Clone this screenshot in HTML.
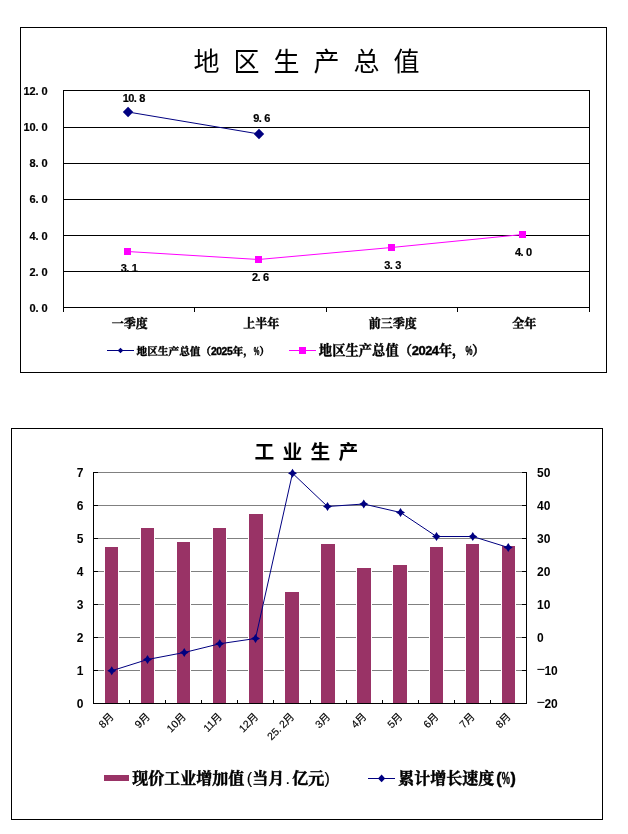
<!DOCTYPE html>
<html lang="zh"><head><meta charset="utf-8"><title>地区生产总值 工业生产</title>
<style>html,body{margin:0;padding:0;background:#fff}svg{display:block}text{font-family:"Liberation Sans", "Noto Sans CJK SC", sans-serif}.sf{font-family:"Liberation Sans", "Noto Serif CJK SC", serif;font-weight:bold}.b{font-weight:bold}</style></head><body>
<svg width="628" height="834" viewBox="0 0 628 834">
<rect width="628" height="834" fill="#fff"/>
<g id="chart1" shape-rendering="crispEdges">
<rect x="20.5" y="27.5" width="586" height="345" fill="none" stroke="#000" stroke-width="1"/>
<rect x="63" y="90" width="527" height="1" fill="#000"/>
<rect x="63" y="127" width="527" height="1" fill="#000"/>
<rect x="63" y="163" width="527" height="1" fill="#000"/>
<rect x="63" y="199" width="527" height="1" fill="#000"/>
<rect x="63" y="235" width="527" height="1" fill="#000"/>
<rect x="63" y="271" width="527" height="1" fill="#000"/>
<rect x="63" y="307" width="527" height="1" fill="#000"/>
<rect x="63" y="90" width="1" height="222" fill="#000"/>
<rect x="589" y="90" width="1" height="218" fill="#000"/>
<rect x="194" y="307" width="1" height="5" fill="#000"/>
<rect x="326" y="307" width="1" height="5" fill="#000"/>
<rect x="457" y="307" width="1" height="5" fill="#000"/>
<rect x="589" y="307" width="1" height="5" fill="#000"/>
</g>
<text x="193.5 233.5 273.5 313.5 353.5 393.5" y="71" font-size="26" fill="#000">地区生产总值</text>
<text class="b" x="23.50 29.50 35.50 41.50" y="95" font-size="11" fill="#000" stroke="#000" stroke-width="0.2">12.0</text>
<text class="b" x="23.50 29.50 35.50 41.50" y="130.8" font-size="11" fill="#000" stroke="#000" stroke-width="0.2">10.0</text>
<text class="b" x="29.50 35.50 41.50" y="166.8" font-size="11" fill="#000" stroke="#000" stroke-width="0.2">8.0</text>
<text class="b" x="29.50 35.50 41.50" y="203" font-size="11" fill="#000" stroke="#000" stroke-width="0.2">6.0</text>
<text class="b" x="29.50 35.50 41.50" y="240" font-size="11" fill="#000" stroke="#000" stroke-width="0.2">4.0</text>
<text class="b" x="29.50 35.50 41.50" y="276.2" font-size="11" fill="#000" stroke="#000" stroke-width="0.2">2.0</text>
<text class="b" x="29.50 35.50 41.50" y="312" font-size="11" fill="#000" stroke="#000" stroke-width="0.2">0.0</text>
<polyline fill="none" stroke="#000080" stroke-width="1" points="128.05,112.00 259.00,134.00"/>
<polyline fill="none" stroke="#ff00ff" stroke-width="1" points="127.50,251.50 258.50,259.50 391.50,247.50 522.50,234.50"/>
<path d="M122.85 112.00L128.05 106.80L133.25 112.00L128.05 117.20Z" fill="#000080"/>
<path d="M253.80 134.00L259.00 128.80L264.20 134.00L259.00 139.20Z" fill="#000080"/>
<rect x="124" y="248" width="7" height="7" fill="#ff00ff" shape-rendering="crispEdges"/>
<rect x="255" y="256" width="7" height="7" fill="#ff00ff" shape-rendering="crispEdges"/>
<rect x="388" y="244" width="7" height="7" fill="#ff00ff" shape-rendering="crispEdges"/>
<rect x="519" y="231" width="7" height="7" fill="#ff00ff" shape-rendering="crispEdges"/>
<text class="b" x="122.70 128.20 133.70 139.20" y="102" font-size="11" fill="#000" stroke="#000" stroke-width="0.2">10.8</text>
<text class="b" x="253.20 258.70 264.20" y="122" font-size="11" fill="#000" stroke="#000" stroke-width="0.2">9.6</text>
<text class="b" x="120.70 126.20 131.70" y="272" font-size="11" fill="#000" stroke="#000" stroke-width="0.2">3.1</text>
<text class="b" x="252.00 257.50 263.00" y="281" font-size="11" fill="#000" stroke="#000" stroke-width="0.2">2.6</text>
<text class="b" x="384.30 389.80 395.30" y="269" font-size="11" fill="#000" stroke="#000" stroke-width="0.2">3.3</text>
<text class="b" x="515.10 520.60 526.10" y="256" font-size="11" fill="#000" stroke="#000" stroke-width="0.2">4.0</text>
<rect x="63" y="271" width="527" height="1" fill="#000" shape-rendering="crispEdges"/>
<text class="sf" x="129.8" y="328" font-size="12" text-anchor="middle" stroke="#000" stroke-width="0.45">一季度</text>
<text class="sf" x="261.2" y="328" font-size="12" text-anchor="middle" stroke="#000" stroke-width="0.45">上半年</text>
<text class="sf" x="392.8" y="328" font-size="12" text-anchor="middle" stroke="#000" stroke-width="0.45">前三季度</text>
<text class="sf" x="524.2" y="328" font-size="12" text-anchor="middle" stroke="#000" stroke-width="0.45">全年</text>
<rect x="107" y="350" width="27" height="1" fill="#000080" shape-rendering="crispEdges"/>
<path d="M117.7 350.5L120.5 347.7L123.3 350.5L120.5 353.3Z" fill="#000080"/>
<text class="sf" y="354.7" font-size="10.67" stroke="#000" stroke-width="0.4"><tspan x="136.50 147.17 157.84 168.51 179.18 189.85 200.52">地区生产总值（</tspan><tspan x="210.89 216.22 221.56 226.89" font-size="10.35">2025</tspan><tspan x="232.53 243.20">年，</tspan><tspan x="253.87" textLength="5.60" lengthAdjust="spacingAndGlyphs">%</tspan><tspan x="259.20">）</tspan></text>
<rect x="289" y="350" width="27" height="1" fill="#ff00ff" shape-rendering="crispEdges"/>
<rect x="299" y="347" width="7" height="7" fill="#ff00ff" shape-rendering="crispEdges"/>
<text class="sf" y="354.7" font-size="13.33" stroke="#000" stroke-width="0.4"><tspan x="318.80 332.13 345.46 358.79 372.12 385.45 398.78">地区生产总值（</tspan><tspan x="411.81 418.48 425.14 431.81" font-size="12.93">2024</tspan><tspan x="438.77 452.10">年，</tspan><tspan x="465.43" textLength="7.00" lengthAdjust="spacingAndGlyphs">%</tspan><tspan x="472.10">）</tspan></text>
<g id="chart2" shape-rendering="crispEdges">
<rect x="11.5" y="428.5" width="591" height="391" fill="none" stroke="#000" stroke-width="1"/>
<rect x="94" y="472" width="432" height="1" fill="#808080"/>
<rect x="94" y="505" width="432" height="1" fill="#808080"/>
<rect x="94" y="538" width="432" height="1" fill="#808080"/>
<rect x="94" y="571" width="432" height="1" fill="#808080"/>
<rect x="94" y="604" width="432" height="1" fill="#808080"/>
<rect x="94" y="637" width="432" height="1" fill="#808080"/>
<rect x="94" y="670" width="432" height="1" fill="#808080"/>
<rect x="104" y="546" width="15" height="157" fill="#fff"/>
<rect x="105" y="547" width="13" height="156" fill="#993366"/>
<rect x="140" y="527" width="15" height="176" fill="#fff"/>
<rect x="141" y="528" width="13" height="175" fill="#993366"/>
<rect x="176" y="541" width="15" height="162" fill="#fff"/>
<rect x="177" y="542" width="13" height="161" fill="#993366"/>
<rect x="212" y="527" width="15" height="176" fill="#fff"/>
<rect x="213" y="528" width="13" height="175" fill="#993366"/>
<rect x="248" y="513" width="16" height="190" fill="#fff"/>
<rect x="249" y="514" width="14" height="189" fill="#993366"/>
<rect x="284" y="591" width="16" height="112" fill="#fff"/>
<rect x="285" y="592" width="14" height="111" fill="#993366"/>
<rect x="320" y="543" width="16" height="160" fill="#fff"/>
<rect x="321" y="544" width="14" height="159" fill="#993366"/>
<rect x="356" y="567" width="16" height="136" fill="#fff"/>
<rect x="357" y="568" width="14" height="135" fill="#993366"/>
<rect x="392" y="564" width="16" height="139" fill="#fff"/>
<rect x="393" y="565" width="14" height="138" fill="#993366"/>
<rect x="429" y="546" width="15" height="157" fill="#fff"/>
<rect x="430" y="547" width="13" height="156" fill="#993366"/>
<rect x="465" y="543" width="15" height="160" fill="#fff"/>
<rect x="466" y="544" width="13" height="159" fill="#993366"/>
<rect x="501" y="545" width="15" height="158" fill="#fff"/>
<rect x="502" y="546" width="13" height="157" fill="#993366"/>
<rect x="93" y="472" width="1" height="232" fill="#000"/>
<rect x="526" y="472" width="1" height="232" fill="#000"/>
<rect x="93" y="703" width="434" height="1" fill="#000"/>
<rect x="93" y="472" width="5" height="1" fill="#000"/>
<rect x="522" y="472" width="5" height="1" fill="#000"/>
<rect x="93" y="505" width="5" height="1" fill="#000"/>
<rect x="522" y="505" width="5" height="1" fill="#000"/>
<rect x="93" y="538" width="5" height="1" fill="#000"/>
<rect x="522" y="538" width="5" height="1" fill="#000"/>
<rect x="93" y="571" width="5" height="1" fill="#000"/>
<rect x="522" y="571" width="5" height="1" fill="#000"/>
<rect x="93" y="604" width="5" height="1" fill="#000"/>
<rect x="522" y="604" width="5" height="1" fill="#000"/>
<rect x="93" y="637" width="5" height="1" fill="#000"/>
<rect x="522" y="637" width="5" height="1" fill="#000"/>
<rect x="93" y="670" width="5" height="1" fill="#000"/>
<rect x="522" y="670" width="5" height="1" fill="#000"/>
<rect x="93" y="703" width="5" height="1" fill="#000"/>
<rect x="522" y="703" width="5" height="1" fill="#000"/>
<rect x="129" y="700" width="1" height="4" fill="#000"/>
<rect x="165" y="700" width="1" height="4" fill="#000"/>
<rect x="201" y="700" width="1" height="4" fill="#000"/>
<rect x="237" y="700" width="1" height="4" fill="#000"/>
<rect x="273" y="700" width="1" height="4" fill="#000"/>
<rect x="310" y="700" width="1" height="4" fill="#000"/>
<rect x="346" y="700" width="1" height="4" fill="#000"/>
<rect x="382" y="700" width="1" height="4" fill="#000"/>
<rect x="418" y="700" width="1" height="4" fill="#000"/>
<rect x="454" y="700" width="1" height="4" fill="#000"/>
<rect x="490" y="700" width="1" height="4" fill="#000"/>
</g>
<text class="b" x="254.5 282.5 310.5 338.5" y="459.2" font-size="19.8" fill="#000">工业生产</text>
<text class="b" x="83.4" y="476.8" font-size="12" text-anchor="end">7</text>
<text class="b" x="83.4" y="509.8" font-size="12" text-anchor="end">6</text>
<text class="b" x="83.4" y="542.8" font-size="12" text-anchor="end">5</text>
<text class="b" x="83.4" y="575.8" font-size="12" text-anchor="end">4</text>
<text class="b" x="83.4" y="608.8" font-size="12" text-anchor="end">3</text>
<text class="b" x="83.4" y="641.8" font-size="12" text-anchor="end">2</text>
<text class="b" x="83.4" y="674.8" font-size="12" text-anchor="end">1</text>
<text class="b" x="83.4" y="707.8" font-size="12" text-anchor="end">0</text>
<text class="b" x="537" y="476.8" font-size="12">50</text>
<text class="b" x="537" y="509.8" font-size="12">40</text>
<text class="b" x="537" y="542.8" font-size="12">30</text>
<text class="b" x="537" y="575.8" font-size="12">20</text>
<text class="b" x="537" y="608.8" font-size="12">10</text>
<text class="b" x="537" y="641.8" font-size="12">0</text>
<text class="b" x="536.6" y="674.8" font-size="12"><tspan font-weight="normal" font-size="14.5" dy="-0.7">−</tspan><tspan x="544.4" dy="0.7">10</tspan></text>
<text class="b" x="536.6" y="707.8" font-size="12"><tspan font-weight="normal" font-size="14.5" dy="-0.7">−</tspan><tspan x="544.4" dy="0.7">20</tspan></text>
<polyline fill="none" stroke="#000080" stroke-width="1" points="111.75,670.75 147.50,659.50 184.25,652.50 219.75,643.75 255.50,638.50 292.50,473.25 327.50,506.50 363.75,504.00 400.50,512.50 436.50,536.50 472.75,536.50 508.25,547.50"/>
<path d="M107.25 670.75L110.00 669.00L111.75 666.25L113.50 669.00L116.25 670.75L113.50 672.50L111.75 675.25L110.00 672.50Z" fill="#000080"/>
<path d="M143.00 659.50L145.75 657.75L147.50 655.00L149.25 657.75L152.00 659.50L149.25 661.25L147.50 664.00L145.75 661.25Z" fill="#000080"/>
<path d="M179.75 652.50L182.50 650.75L184.25 648.00L186.00 650.75L188.75 652.50L186.00 654.25L184.25 657.00L182.50 654.25Z" fill="#000080"/>
<path d="M215.25 643.75L218.00 642.00L219.75 639.25L221.50 642.00L224.25 643.75L221.50 645.50L219.75 648.25L218.00 645.50Z" fill="#000080"/>
<path d="M251.00 638.50L253.75 636.75L255.50 634.00L257.25 636.75L260.00 638.50L257.25 640.25L255.50 643.00L253.75 640.25Z" fill="#000080"/>
<path d="M288.00 473.25L290.75 471.50L292.50 468.75L294.25 471.50L297.00 473.25L294.25 475.00L292.50 477.75L290.75 475.00Z" fill="#000080"/>
<path d="M323.00 506.50L325.75 504.75L327.50 502.00L329.25 504.75L332.00 506.50L329.25 508.25L327.50 511.00L325.75 508.25Z" fill="#000080"/>
<path d="M359.25 504.00L362.00 502.25L363.75 499.50L365.50 502.25L368.25 504.00L365.50 505.75L363.75 508.50L362.00 505.75Z" fill="#000080"/>
<path d="M396.00 512.50L398.75 510.75L400.50 508.00L402.25 510.75L405.00 512.50L402.25 514.25L400.50 517.00L398.75 514.25Z" fill="#000080"/>
<path d="M432.00 536.50L434.75 534.75L436.50 532.00L438.25 534.75L441.00 536.50L438.25 538.25L436.50 541.00L434.75 538.25Z" fill="#000080"/>
<path d="M468.25 536.50L471.00 534.75L472.75 532.00L474.50 534.75L477.25 536.50L474.50 538.25L472.75 541.00L471.00 538.25Z" fill="#000080"/>
<path d="M503.75 547.50L506.50 545.75L508.25 543.00L510.00 545.75L512.75 547.50L510.00 549.25L508.25 552.00L506.50 549.25Z" fill="#000080"/>
<text x="114.5" y="717.3" font-size="10.5" text-anchor="end" stroke="#000" stroke-width="0.15" transform="rotate(-45 114.5 717.3)">8月</text>
<text x="150.6" y="717.3" font-size="10.5" text-anchor="end" stroke="#000" stroke-width="0.15" transform="rotate(-45 150.6 717.3)">9月</text>
<text x="186.7" y="717.3" font-size="10.5" text-anchor="end" stroke="#000" stroke-width="0.15" transform="rotate(-45 186.7 717.3)">10月</text>
<text x="222.8" y="717.3" font-size="10.5" text-anchor="end" stroke="#000" stroke-width="0.15" transform="rotate(-45 222.8 717.3)">11月</text>
<text x="258.9" y="717.3" font-size="10.5" text-anchor="end" stroke="#000" stroke-width="0.15" transform="rotate(-45 258.9 717.3)">12月</text>
<text x="295.0" y="717.3" font-size="10.5" text-anchor="end" stroke="#000" stroke-width="0.15" transform="rotate(-45 295.0 717.3)">25.<tspan dx="2.2">2月</tspan></text>
<text x="331.0" y="717.3" font-size="10.5" text-anchor="end" stroke="#000" stroke-width="0.15" transform="rotate(-45 331.0 717.3)">3月</text>
<text x="367.1" y="717.3" font-size="10.5" text-anchor="end" stroke="#000" stroke-width="0.15" transform="rotate(-45 367.1 717.3)">4月</text>
<text x="403.2" y="717.3" font-size="10.5" text-anchor="end" stroke="#000" stroke-width="0.15" transform="rotate(-45 403.2 717.3)">5月</text>
<text x="439.3" y="717.3" font-size="10.5" text-anchor="end" stroke="#000" stroke-width="0.15" transform="rotate(-45 439.3 717.3)">6月</text>
<text x="475.4" y="717.3" font-size="10.5" text-anchor="end" stroke="#000" stroke-width="0.15" transform="rotate(-45 475.4 717.3)">7月</text>
<text x="511.5" y="717.3" font-size="10.5" text-anchor="end" stroke="#000" stroke-width="0.15" transform="rotate(-45 511.5 717.3)">8月</text>
<rect x="104" y="775" width="25" height="6" fill="#993366" shape-rendering="crispEdges"/>
<text class="sf" y="783.6" font-size="16" stroke="#000" stroke-width="0.45"><tspan x="132.20 148.20 164.20 180.20 196.20 212.20 228.20">现价工业增加值</tspan><tspan x="246.80" font-weight="normal" stroke-width="0.15">(</tspan><tspan x="252.20 268.20">当月</tspan><tspan x="285.60" font-weight="normal" stroke-width="0.15">.</tspan><tspan x="292.20 308.20">亿元</tspan><tspan x="324.60" font-weight="normal" stroke-width="0.15">)</tspan></text>
<rect x="368" y="778" width="27" height="1" fill="#000080" shape-rendering="crispEdges"/>
<path d="M378 778.4L381.6 774.6L385.2 778.4L381.6 782.2Z" fill="#000080"/>
<text class="sf" y="783.6" font-size="16" stroke="#000" stroke-width="0.45"><tspan x="398.20 414.20 430.20 446.20 462.20 478.20">累计增长速度</tspan><tspan x="496.20">(</tspan><tspan x="501.80" textLength="8.2" lengthAdjust="spacingAndGlyphs">%</tspan><tspan x="510.60">)</tspan></text>
</svg></body></html>
